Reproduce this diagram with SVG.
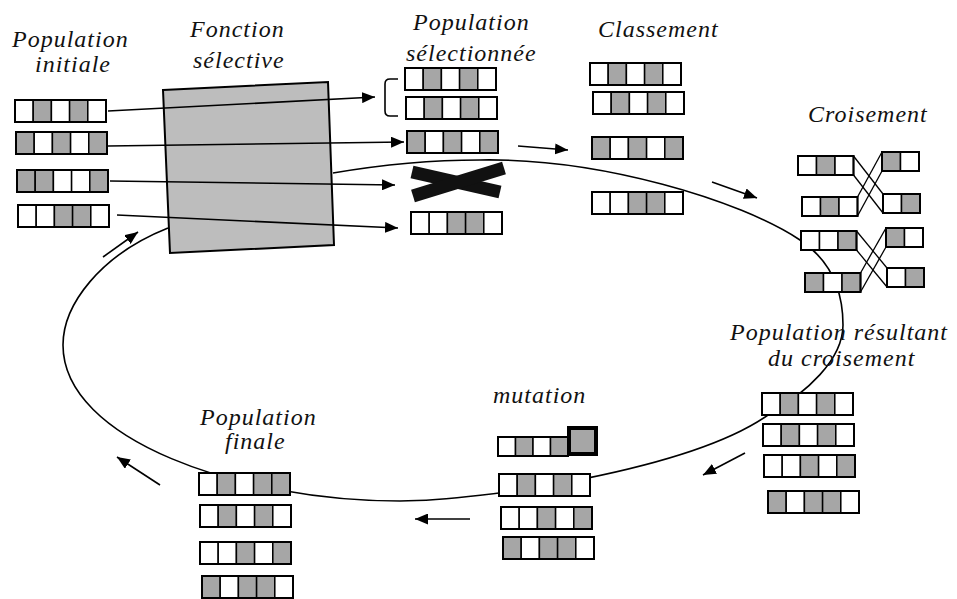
<svg xmlns="http://www.w3.org/2000/svg" width="957" height="599" viewBox="0 0 957 599">
<style>
.t{font-family:"Liberation Serif","Times New Roman",serif;font-style:italic;font-size:24px;letter-spacing:1px;fill:#111}
.w{fill:#fff;stroke:#000;stroke-width:1.5}
.g{fill:#a6a6a6;stroke:#000;stroke-width:1.5}
.f{fill:none;stroke:#000;stroke-width:2}
.ln{fill:none;stroke:#000;stroke-width:1.6}
.ar{fill:none;stroke:#000;stroke-width:1.6;marker-end:url(#ah)}
.xl{fill:none;stroke:#000;stroke-width:1.3}
</style>
<defs>
<marker id="ah" markerUnits="userSpaceOnUse" markerWidth="13" markerHeight="11" refX="13" refY="5.5" orient="auto">
<path d="M0,0 L13,5.5 L0,11 Z" fill="#000"/>
</marker>
<g id="c5-WGWGW"><rect class="w" x="0" width="18.2" height="22"/><rect class="g" x="18.2" width="18.2" height="22"/><rect class="w" x="36.4" width="18.2" height="22"/><rect class="g" x="54.6" width="18.2" height="22"/><rect class="w" x="72.8" width="18.2" height="22"/><rect class="f" width="91" height="22"/></g>
<g id="c5-GWGWG"><rect class="g" x="0" width="18.2" height="22"/><rect class="w" x="18.2" width="18.2" height="22"/><rect class="g" x="36.4" width="18.2" height="22"/><rect class="w" x="54.6" width="18.2" height="22"/><rect class="g" x="72.8" width="18.2" height="22"/><rect class="f" width="91" height="22"/></g>
<g id="c5-GGWWG"><rect class="g" x="0" width="18.2" height="22"/><rect class="g" x="18.2" width="18.2" height="22"/><rect class="w" x="36.4" width="18.2" height="22"/><rect class="w" x="54.6" width="18.2" height="22"/><rect class="g" x="72.8" width="18.2" height="22"/><rect class="f" width="91" height="22"/></g>
<g id="c5-WWGGW"><rect class="w" x="0" width="18.2" height="22"/><rect class="w" x="18.2" width="18.2" height="22"/><rect class="g" x="36.4" width="18.2" height="22"/><rect class="g" x="54.6" width="18.2" height="22"/><rect class="w" x="72.8" width="18.2" height="22"/><rect class="f" width="91" height="22"/></g>
<g id="c5-WWGWG"><rect class="w" x="0" width="18.2" height="22"/><rect class="w" x="18.2" width="18.2" height="22"/><rect class="g" x="36.4" width="18.2" height="22"/><rect class="w" x="54.6" width="18.2" height="22"/><rect class="g" x="72.8" width="18.2" height="22"/><rect class="f" width="91" height="22"/></g>
<g id="c5-GWGGW"><rect class="g" x="0" width="18.2" height="22"/><rect class="w" x="18.2" width="18.2" height="22"/><rect class="g" x="36.4" width="18.2" height="22"/><rect class="g" x="54.6" width="18.2" height="22"/><rect class="w" x="72.8" width="18.2" height="22"/><rect class="f" width="91" height="22"/></g>
<g id="c5-WGWGG"><rect class="w" x="0" width="18.2" height="22"/><rect class="g" x="18.2" width="18.2" height="22"/><rect class="w" x="36.4" width="18.2" height="22"/><rect class="g" x="54.6" width="18.2" height="22"/><rect class="g" x="72.8" width="18.2" height="22"/><rect class="f" width="91" height="22"/></g>
<g id="c3-WGW"><rect class="w" x="0" width="18.5" height="19"/><rect class="g" x="18.5" width="18.5" height="19"/><rect class="w" x="37" width="18.5" height="19"/><rect class="f" width="55.5" height="19"/></g>
<g id="c3-WWG"><rect class="w" x="0" width="18.5" height="19"/><rect class="w" x="18.5" width="18.5" height="19"/><rect class="g" x="37" width="18.5" height="19"/><rect class="f" width="55.5" height="19"/></g>
<g id="c3-GWG"><rect class="g" x="0" width="18.5" height="19"/><rect class="w" x="18.5" width="18.5" height="19"/><rect class="g" x="37" width="18.5" height="19"/><rect class="f" width="55.5" height="19"/></g>
<g id="c2-GW"><rect class="g" x="0" width="18.5" height="19"/><rect class="w" x="18.5" width="18.5" height="19"/><rect class="f" width="37" height="19"/></g>
<g id="c2-WG"><rect class="w" x="0" width="18.5" height="19"/><rect class="g" x="18.5" width="18.5" height="19"/><rect class="f" width="37" height="19"/></g>
</defs>
<rect width="957" height="599" fill="#fff"/>

<g id="fonction-selective">
<polygon points="163,90 328,82 334,245 170,253" fill="#bdbdbd" stroke="#000" stroke-width="2"/>
<text class="t" x="190" y="37">Fonction</text>
<text class="t" x="193" y="68">sélective</text>
</g>

<g id="connectors">
<path class="ln" d="M 333 173 C 380 165 430 160 480 160 C 600 158 740 200 800 240 C 830 260 843 290 843 325 C 843 360 806 393 768 415 C 690 470 480 501 400 501 C 240 501 63 440 63 345 C 63 305 100 255 168 228"/>
<line class="ar" x1="108" y1="111" x2="375" y2="97"/>
<line class="ar" x1="108" y1="146" x2="404" y2="142"/>
<line class="ar" x1="110" y1="181" x2="395" y2="185"/>
<line class="ar" x1="117" y1="215" x2="398" y2="228"/>
<line class="ar" x1="518" y1="146" x2="568" y2="150"/>
<line class="ar" x1="712" y1="182" x2="757" y2="198"/>
<line class="ar" x1="745" y1="453" x2="703" y2="475"/>
<line class="ar" x1="470" y1="519" x2="415" y2="519"/>
<line class="ar" x1="160" y1="485" x2="117" y2="457"/>
<line class="ar" x1="103" y1="257" x2="138" y2="232"/>
</g>

<g id="population-initiale">
<text class="t" x="12" y="47">Population</text>
<text class="t" x="35" y="72">initiale</text>
<use href="#c5-WGWGW" x="15" y="100"/>
<use href="#c5-GWGWG" x="16" y="132"/>
<use href="#c5-GGWWG" x="17" y="170"/>
<use href="#c5-WWGGW" x="18" y="205"/>
</g>

<g id="population-selectionnee">
<text class="t" x="413" y="30">Population</text>
<text class="t" x="406" y="61">sélectionnée</text>
<path d="M 398 79 L 390 79 Q 385 79 385 84 L 385 111 Q 385 116 390 116 L 398 116" fill="none" stroke="#000" stroke-width="1.6"/>
<use href="#c5-WGWGW" x="405" y="68"/>
<use href="#c5-WGWGW" x="406" y="97"/>
<use href="#c5-GWGWG" x="407" y="131"/>
<g id="rejet">
<line x1="412" y1="172" x2="500" y2="192" stroke="#111" stroke-width="13"/>
<line x1="504" y1="168" x2="413" y2="196" stroke="#111" stroke-width="13"/>
</g>
<use href="#c5-WWGGW" x="411" y="212"/>
</g>

<g id="classement">
<text class="t" x="598" y="37">Classement</text>
<use href="#c5-WGWGW" x="590" y="63"/>
<use href="#c5-WGWGW" x="593" y="92"/>
<use href="#c5-GWGWG" x="592" y="137"/>
<use href="#c5-WWGGW" x="592" y="192"/>
</g>

<g id="croisement">
<text class="t" x="808" y="122">Croisement</text>
<line class="xl" x1="853.5" y1="156" x2="883" y2="194"/>
<line class="xl" x1="853.5" y1="175" x2="883" y2="213"/>
<line class="xl" x1="857.5" y1="197" x2="882" y2="152"/>
<line class="xl" x1="857.5" y1="216" x2="882" y2="171"/>
<line class="xl" x1="856.5" y1="231" x2="887" y2="268"/>
<line class="xl" x1="856.5" y1="250" x2="887" y2="287"/>
<line class="xl" x1="860.5" y1="273" x2="886" y2="228"/>
<line class="xl" x1="860.5" y1="292" x2="886" y2="247"/>
<use href="#c3-WGW" x="798" y="156"/>
<use href="#c2-GW" x="882" y="152"/>
<use href="#c3-WGW" x="802" y="197"/>
<use href="#c2-WG" x="883" y="194"/>
<use href="#c3-WWG" x="801" y="231"/>
<use href="#c2-GW" x="886" y="228"/>
<use href="#c3-GWG" x="805" y="273"/>
<use href="#c2-WG" x="887" y="268"/>
</g>

<g id="population-resultant">
<text class="t" x="730" y="340">Population résultant</text>
<text class="t" x="768" y="366">du croisement</text>
<use href="#c5-WGWGW" x="762" y="393"/>
<use href="#c5-WGWGW" x="763" y="424"/>
<use href="#c5-WWGWG" x="764" y="455"/>
<use href="#c5-GWGGW" x="768" y="491"/>
</g>

<g id="mutation">
<text class="t" x="493" y="403">mutation</text>
<rect class="w" x="498" y="437" width="17.5" height="19"/>
<rect class="g" x="515.5" y="437" width="17.5" height="19"/>
<rect class="w" x="533" y="437" width="17.5" height="19"/>
<rect class="g" x="550.5" y="437" width="17.5" height="19"/>
<rect class="f" x="498" y="437" width="70" height="19"/>
<rect x="569" y="428" width="27" height="26" fill="#a6a6a6" stroke="#000" stroke-width="4"/>
<use href="#c5-WGWGW" x="499" y="474"/>
<use href="#c5-WWGWG" x="501" y="507"/>
<use href="#c5-GWGGW" x="503" y="537"/>
</g>

<g id="population-finale">
<text class="t" x="200" y="425">Population</text>
<text class="t" x="225" y="449">finale</text>
<use href="#c5-WGWGG" x="199" y="473"/>
<use href="#c5-WGWGW" x="200" y="505"/>
<use href="#c5-WWGWG" x="200" y="542"/>
<use href="#c5-GWGGW" x="202" y="576"/>
</g>
</svg>
